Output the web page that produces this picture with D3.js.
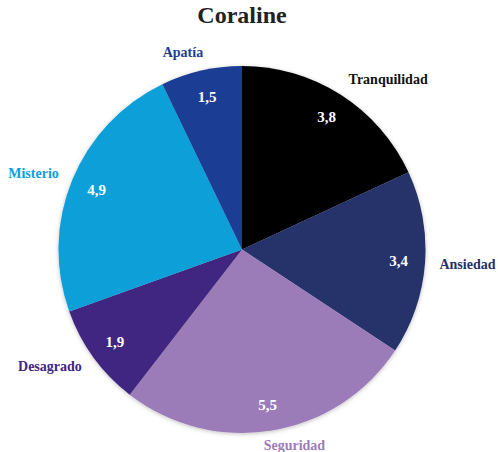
<!DOCTYPE html>
<html><head><meta charset="utf-8">
<script src="https://cdn.jsdelivr.net/npm/d3@7"></script>
<style>body{margin:0;background:#fff}svg{display:block}</style>
</head><body>
<svg id="c" width="498" height="452"></svg>
<script>
const categories = ["Tranquilidad","Ansiedad","Seguridad","Desagrado","Misterio","Apatía"];
const values = [3.8,3.4,5.5,1.9,4.9,1.5];
const colors = ["#000000","#25306a","#9b7cb9","#3f2780","#0a9fd8","#1a3e94"];
const title = "Coraline";

const svg = d3.select("#c");
const W=498,H=452, cx=242, cy=249.5, R=183.5;
const font = "'Liberation Serif','Times New Roman',serif";

const defs = svg.append("defs");
const f = defs.append("filter").attr("id","sh").attr("x","-10%").attr("y","-10%").attr("width","120%").attr("height","120%");
f.append("feDropShadow").attr("dx",0).attr("dy",1).attr("stdDeviation",2).attr("flood-color","#000").attr("flood-opacity",0.25);

svg.append("text").attr("x",242).attr("y",23).attr("text-anchor","middle")
  .attr("font-family",font).attr("font-weight","bold").attr("font-size",24).attr("fill","#222")
  .text(title);

const data = categories.map((c,i)=>({c,v:values[i],col:colors[i]}));
const pie = d3.pie().value(d=>d.v).sort(null);
const arcs = pie(data);
const arc = d3.arc().innerRadius(0).outerRadius(R);
const g = svg.append("g").attr("transform",`translate(${cx},${cy})`);
g.append("g").attr("filter","url(#sh)").selectAll("path").data(arcs).join("path")
  .attr("d",arc).attr("fill",d=>d.data.col);

const fmt = v => String(v).replace(".",",");
const inArc = d3.arc().innerRadius(157).outerRadius(157);
g.selectAll("text.v").data(arcs).join("text").attr("class","v")
  .attr("transform",d=>`translate(${inArc.centroid(d)})`)
  .attr("text-anchor","middle").attr("dy","0.35em")
  .attr("font-family",font).attr("font-weight","bold").attr("font-size",15).attr("fill","#fff")
  .text(d=>fmt(d.data.v));

const outR = 198;
g.selectAll("text.o").data(arcs).join("text").attr("class","o")
  .each(function(d){
    const a=(d.startAngle+d.endAngle)/2, s=Math.sin(a), co=Math.cos(a);
    const x=outR*s, y=-outR*co;
    let anchor = s>0?"start":"end", dx=0;
    if(Math.abs(s)<0.3){ anchor="middle"; dx = s>0? 20 : -15; }
    d3.select(this).attr("x",x+dx).attr("y",y - Math.max(co,0)*4).attr("dy","0.35em").attr("text-anchor",anchor);
  })
  .attr("font-family",font).attr("font-weight","bold").attr("font-size",14)
  .attr("fill",d=>d.data.col==="#000000"?"#111":d.data.col)
  .text(d=>d.data.c);
</script>
</body></html>
